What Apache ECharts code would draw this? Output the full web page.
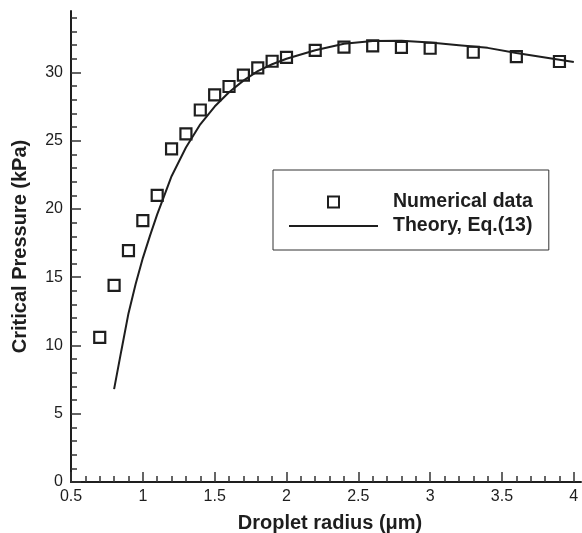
<!DOCTYPE html>
<html>
<head>
<meta charset="utf-8">
<script src="https://cdn.jsdelivr.net/npm/echarts@6/dist/echarts.min.js"></script>
<style>html,body{margin:0;padding:0;background:#fff}#c{width:582px;height:533px}</style>
</head>
<body>
<div id="c"></div>
<script>
// Numerical data (squares)
var numRadius = [0.7, 0.8, 0.9, 1.0, 1.1, 1.2, 1.3, 1.4, 1.5, 1.6, 1.7, 1.8, 1.9, 2.0, 2.2, 2.4, 2.6, 2.8, 3.0, 3.3, 3.6, 3.9];
var numPressure = [10.6, 14.4, 16.95, 19.15, 21.0, 24.4, 25.5, 27.25, 28.35, 28.97, 29.8, 30.33, 30.82, 31.11, 31.62, 31.85, 31.95, 31.84, 31.77, 31.48, 31.16, 30.8];
// Theory curve, Eq.(13)
var thRadius = [0.8, 0.85, 0.9, 0.95, 1.0, 1.05, 1.1, 1.15, 1.2, 1.3, 1.4, 1.5, 1.6, 1.7, 1.8, 1.9, 2.0, 2.2, 2.4, 2.6, 2.8, 3.0, 3.2, 3.4, 3.6, 3.8, 4.0];
var thPressure = [6.8, 9.6, 12.35, 14.5, 16.4, 18.05, 19.6, 21.0, 22.4, 24.5, 26.2, 27.5, 28.55, 29.4, 30.1, 30.6, 31.0, 31.62, 32.1, 32.3, 32.32, 32.2, 32.0, 31.8, 31.42, 31.1, 30.76];
// Axis ticks
var xMajorTicks = [0.5, 1, 1.5, 2, 2.5, 3, 3.5, 4];
var xMinorTicks = [0.6,0.7,0.8,0.9,1.1,1.2,1.3,1.4,1.6,1.7,1.8,1.9,2.1,2.2,2.3,2.4,2.6,2.7,2.8,2.9,3.1,3.2,3.3,3.4,3.6,3.7,3.8,3.9];
var yMajorTicks = [0, 5, 10, 15, 20, 25, 30];
var yMinorTicks = [1,2,3,4,6,7,8,9,11,12,13,14,16,17,18,19,21,22,23,24,26,27,28,29,31,32,33,34];

var FONT = '"Liberation Sans", Arial, Helvetica, sans-serif';
var INK = '#1e1e1e';
var X_MIN = 0.5, X_MAX = 4.05, Y_MIN = 0, Y_MAX = 34.5;
var SQUARE = 'path://M0,0L10,0L10,10L0,10Z';

function zip(a, b) { return a.map(function (v, i) { return [v, b[i]]; }); }

var chart = echarts.init(document.getElementById('c'), null, {renderer: 'canvas'});
chart.setOption({
  animation: false,
  backgroundColor: '#ffffff',
  grid: {left: 71, right: 1, top: 11, bottom: 51, containLabel: false, outerBoundsMode: 'none'},
  legend: {
    orient: 'vertical',
    left: 273, top: 170,
    padding: [22, 16, 14, 15],
    itemGap: 4,
    itemWidth: 89,
    itemHeight: 11,
    symbolKeepAspect: true,
    borderColor: '#333',
    borderWidth: 1,
    backgroundColor: '#fff',
    selectedMode: false,
    textStyle: {fontFamily: FONT, fontSize: 19.5, fontWeight: 'bold', color: INK, lineHeight: 14, padding: [0, 0, 0, 10]},
    data: [
      {name: 'Numerical data', icon: SQUARE},
      {name: 'Theory, Eq.(13)', itemStyle: {color: 'rgba(0,0,0,0)', opacity: 0, borderWidth: 0}}
    ]
  },
  xAxis: [{
    type: 'value', min: X_MIN, max: X_MAX, interval: 0.5, position: 'bottom',
    name: 'Droplet radius (\u03bcm)', nameLocation: 'middle', nameGap: 31,
    nameTextStyle: {fontFamily: FONT, fontSize: 20, fontWeight: 'bold', color: INK, padding: [0, 0, 0, 8]},
    axisLine: {show: true, onZero: false, lineStyle: {color: INK, width: 2}},
    axisTick: {show: true, inside: true, length: 10, customValues: xMajorTicks, lineStyle: {color: '#333', width: 1.5}},
    axisLabel: {show: true, customValues: xMajorTicks, margin: 7, fontFamily: FONT, fontSize: 16, color: INK,
      formatter: function (v) { return String(v); }},
    splitLine: {show: false}
  }, {
    type: 'value', min: X_MIN, max: X_MAX, interval: 0.5, position: 'bottom',
    axisLine: {show: false},
    axisTick: {show: true, inside: true, length: 6, customValues: xMinorTicks, lineStyle: {color: '#333', width: 1.5}},
    axisLabel: {show: false},
    splitLine: {show: false}
  }],
  yAxis: [{
    type: 'value', min: Y_MIN, max: Y_MAX, interval: 5, position: 'left',
    name: 'Critical Pressure (kPa)', nameLocation: 'middle', nameGap: 41,
    nameTextStyle: {fontFamily: FONT, fontSize: 20, fontWeight: 'bold', color: INK},
    axisLine: {show: true, onZero: false, lineStyle: {color: INK, width: 2}},
    axisTick: {show: true, inside: true, length: 10, customValues: yMajorTicks, lineStyle: {color: '#333', width: 1.5}},
    axisLabel: {show: true, customValues: yMajorTicks, margin: 8, fontFamily: FONT, fontSize: 16, color: INK},
    splitLine: {show: false}
  }, {
    type: 'value', min: Y_MIN, max: Y_MAX, interval: 5, position: 'left',
    axisLine: {show: false},
    axisTick: {show: true, inside: true, length: 6, customValues: yMinorTicks, lineStyle: {color: '#333', width: 1.5}},
    axisLabel: {show: false},
    splitLine: {show: false}
  }],
  series: [{
    name: 'Theory, Eq.(13)',
    type: 'line',
    data: zip(thRadius, thPressure),
    symbol: 'none',
    smooth: false,
    lineStyle: {color: INK, width: 2},
    itemStyle: {color: INK},
    z: 2
  }, {
    name: 'Numerical data',
    type: 'scatter',
    data: zip(numRadius, numPressure),
    symbol: SQUARE,
    symbolSize: 11,
    itemStyle: {color: 'rgba(255,255,255,0)', borderColor: INK, borderWidth: 2.2, opacity: 1},
    z: 3
  }]
});
</script>
</body>
</html>
